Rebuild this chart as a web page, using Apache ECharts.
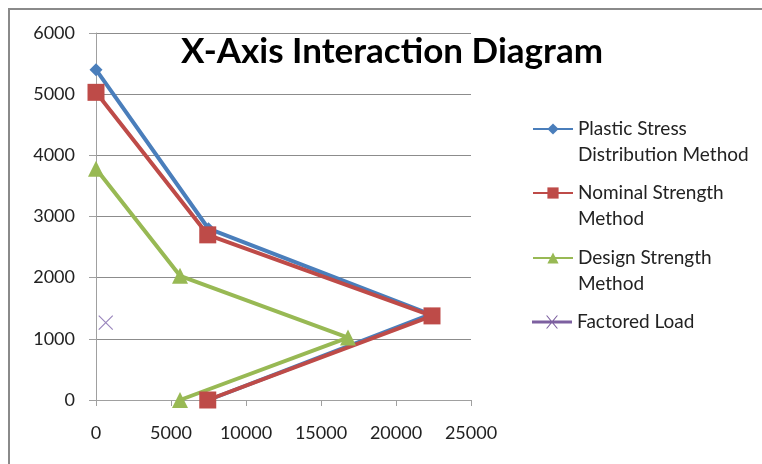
<!DOCTYPE html>
<html><head><meta charset="utf-8">
<script src="https://cdn.jsdelivr.net/npm/echarts@6/dist/echarts.min.js"></script>
<style>html,body{margin:0;padding:0;background:#fff}#c{width:762px;height:464px}</style>
</head><body><div id="c"></div>
<script>
const seriesNames = ['Plastic Stress\nDistribution Method','Nominal Strength\nMethod','Design Strength\nMethod','Factored Load'];
const plasticX = [0, 7500, 22300, 7500];
const plasticY = [5400, 2800, 1400, 0];
const nominalX = [0, 7450, 22400, 7450];
const nominalY = [5030, 2700, 1375, 0];
const designX = [0, 5600, 16800, 5600];
const designY = [3780, 2030, 1020, 0];
const loadX = [650];
const loadY = [1265];
const xTicks = [0, 5000, 10000, 15000, 20000, 25000];
const yTicks = [0, 1000, 2000, 3000, 4000, 5000, 6000];

const colors = ['#4A7EBB', '#BE4B48', '#98B954', '#7D60A0'];
const xPath = 'path://M0,0 L10,10 M10,0 L0,10';
const loadIcon = 'path://M0,5.5L40,5.5L40,8.5L0,8.5Z M14,0.5L15.3,0.5L26,13.5L24.7,13.5Z M24.7,0.5L26,0.5L15.3,13.5L14,13.5Z';
const zip = (a, b) => a.map((v, i) => [v, b[i]]);
const F = 'Lato, "Liberation Sans", sans-serif';
const L = 26;
function legendFor(i, top, twoLine) {
  const item = { name: seriesNames[i] };
  if (i === 3) { item.icon = loadIcon; item.itemStyle = { color: colors[3], borderWidth: 0 }; }
  return {
    data: [item],
    formatter: n => twoLine ? '\n' + n : n,
    left: 532, top: top, itemWidth: 40, itemHeight: 14, itemGap: 0, padding: 0,
    selectedMode: false,
    textStyle: { fontFamily: F, fontSize: 19, color: '#222', lineHeight: L }
  };
}
const chart = echarts.init(document.getElementById('c'));
chart.setOption({
  animation: false,
  title: { text: 'X-Axis Interaction Diagram', left: 387, textAlign: 'center', top: 29,
    textStyle: { fontFamily: F, fontWeight: 'bold', fontSize: 35, color: '#000' } },
  graphic: [{ type: 'polyline', shape: { points: [[9, 470], [9, 9], [770, 9]] }, style: { stroke: '#8a8a8a', lineWidth: 2, fill: null } }],
  legend: [legendFor(0, 129 - 1.5 * L, true), legendFor(1, 193 - 1.5 * L, true), legendFor(2, 258 - 1.5 * L, true), legendFor(3, 322 - L / 2, false)],
  grid: { left: 96, right: 291, top: 33, bottom: 64, containLabel: false },
  xAxis: { type: 'value', min: xTicks[0], max: xTicks[xTicks.length - 1], interval: 5000,
    axisLine: { show: true, lineStyle: { color: '#a0a0a0', width: 1 } },
    axisTick: { show: true, length: 6, lineStyle: { color: '#a0a0a0' } },
    splitLine: { show: false },
    axisLabel: { fontFamily: F, fontSize: 18, color: '#222', margin: 24, formatter: v => String(v) } },
  yAxis: { type: 'value', min: yTicks[0], max: yTicks[yTicks.length - 1], interval: 1000,
    axisLine: { show: true, lineStyle: { color: '#a0a0a0', width: 1 } },
    axisTick: { show: true, length: 7, lineStyle: { color: '#a0a0a0' } },
    splitLine: { show: true, lineStyle: { color: '#8c8c8c', width: 1 } },
    axisLabel: { fontFamily: F, fontSize: 18, color: '#222', margin: 21, formatter: v => String(v) } },
  series: [
    { name: seriesNames[0], type: 'line', data: zip(plasticX, plasticY), color: colors[0],
      symbol: 'diamond', symbolSize: 13, lineStyle: { width: 4 } },
    { name: seriesNames[1], type: 'line', data: zip(nominalX, nominalY), color: colors[1],
      symbol: 'rect', symbolSize: 17, lineStyle: { width: 4 } },
    { name: seriesNames[2], type: 'line', data: zip(designX, designY), color: colors[2],
      symbol: 'triangle', symbolSize: 16, lineStyle: { width: 4 } },
    { name: seriesNames[3], type: 'line', data: zip(loadX, loadY), color: colors[3],
      symbol: xPath, symbolSize: 14, showSymbol: true,
      itemStyle: { color: 'none', borderColor: '#9a86bd', borderWidth: 1.2 }, lineStyle: { width: 4 } }
  ]
});
</script></body></html>
